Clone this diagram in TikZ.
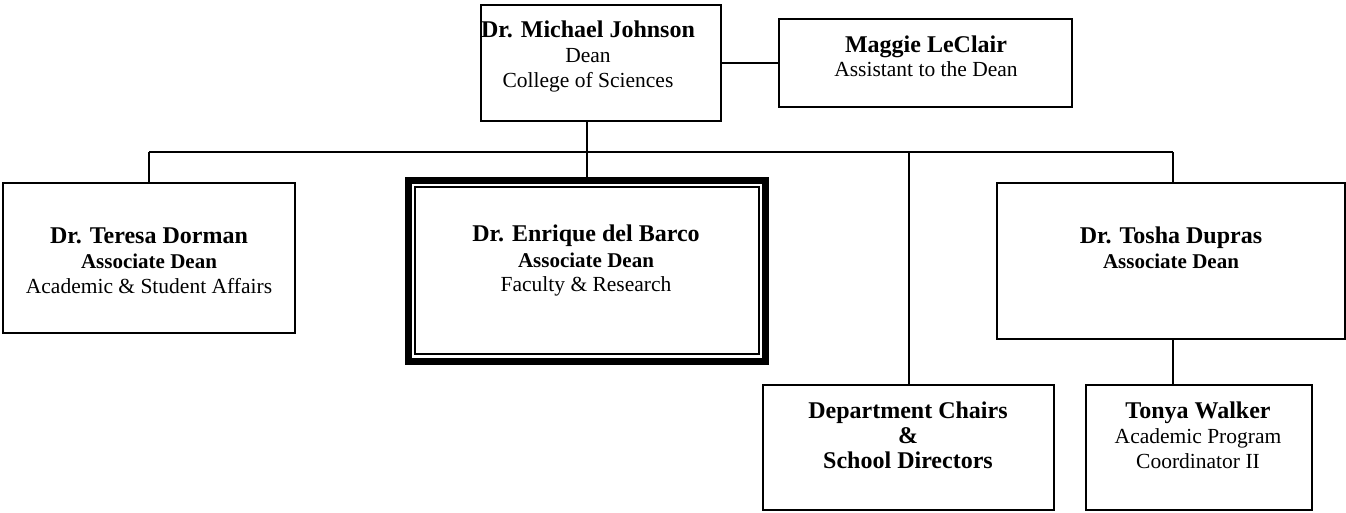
\documentclass[tikz,border=0pt]{standalone}
\usepackage{fontspec}
\setmainfont{Liberation Serif}
\begin{document}
\begin{tikzpicture}[x=1pt,y=-1pt,
  box/.style={draw=black,line width=2pt,inner sep=0pt,rectangle},
  thickbox/.style={draw=black,line width=7pt,inner sep=0pt,rectangle},
  thinbox/.style={draw=black,line width=1.5pt,inner sep=0pt,rectangle},
  conn/.style={draw=black,line width=2pt},
  nm/.style={anchor=base,inner sep=0pt,font=\fontsize{24}{28}\selectfont\bfseries},
  rb/.style={anchor=base,inner sep=0pt,font=\fontsize{21}{25}\selectfont\bfseries},
  rl/.style={anchor=base,inner sep=0pt,font=\fontsize{21.5}{25}\selectfont}]
\useasboundingbox (0,0) rectangle (1346,512);
\fill[white] (0,0) rectangle (1346,512);

% boxes
\node[box,minimum width=240pt,minimum height=116pt] (dean) at (601,63) {};
\node[box,minimum width=293pt,minimum height=88pt] (maggie) at (925.5,63) {};
\node[box,minimum width=292pt,minimum height=150pt] (teresa) at (149,258) {};
\node[thickbox,minimum width=357pt,minimum height=181pt] (enrique) at (587,271) {};
\node[thinbox,minimum width=344pt,minimum height=167pt] (enriquein) at (587,270.5) {};
\node[box,minimum width=291pt,minimum height=125pt] (dept) at (908.5,447.5) {};
\node[box,minimum width=348pt,minimum height=156pt] (tosha) at (1171,261) {};
\node[box,minimum width=226pt,minimum height=125pt] (tonya) at (1199,447.5) {};

% texts
\node[nm] (t1) at (588,37) {Dr. Michael Johnson};
\node[rl] (t2) at (588,62) {Dean};
\node[rl] (t3) at (588,87) {College of Sciences};

\node[nm] (t4) at (926,52) {Maggie LeClair};
\node[rl] (t5) at (926,76) {Assistant to the Dean};

\node[nm] (t6) at (149,243) {Dr. Teresa Dorman};
\node[rb] (t7) at (149,268) {Associate Dean};
\node[rl] (t8) at (149,293) {Academic \& Student Affairs};

\node[nm] (t9) at (586,241) {Dr. Enrique del Barco};
\node[rb] (t10) at (586,267) {Associate Dean};
\node[rl] (t11) at (586,291) {Faculty \& Research};

\node[nm] (t12) at (1171,243) {Dr. Tosha Dupras};
\node[rb] (t13) at (1171,268) {Associate Dean};

\node[nm] (t14) at (908,418) {Department Chairs};
\node[nm] (t15) at (908,443) {\&};
\node[nm] (t16) at (908,468) {School Directors};

\node[nm] (t17) at (1198,418) {Tonya Walker};
\node[rl] (t18) at (1198,443) {Academic Program};
\node[rl] (t19) at (1198,468) {Coordinator II};

% connectors
\coordinate (j) at (587,152);
\coordinate (bl) at (149,152);
\coordinate (br) at (1173,152);
\draw[conn] (dean.east) -- (maggie.west);
\draw[conn] (j |- dean.south) -- (j);
\draw[conn] (bl) -- (br);
\draw[conn] (teresa.north |- bl) -- (teresa.north);
\draw[conn] (j) -- (enrique.north);
\draw[conn] (dept.north |- j) -- (dept.north);
\draw[conn] (br) -- (br |- tosha.north);
\draw[conn] (br |- tosha.south) -- (br |- tonya.north);
\end{tikzpicture}
\end{document}
